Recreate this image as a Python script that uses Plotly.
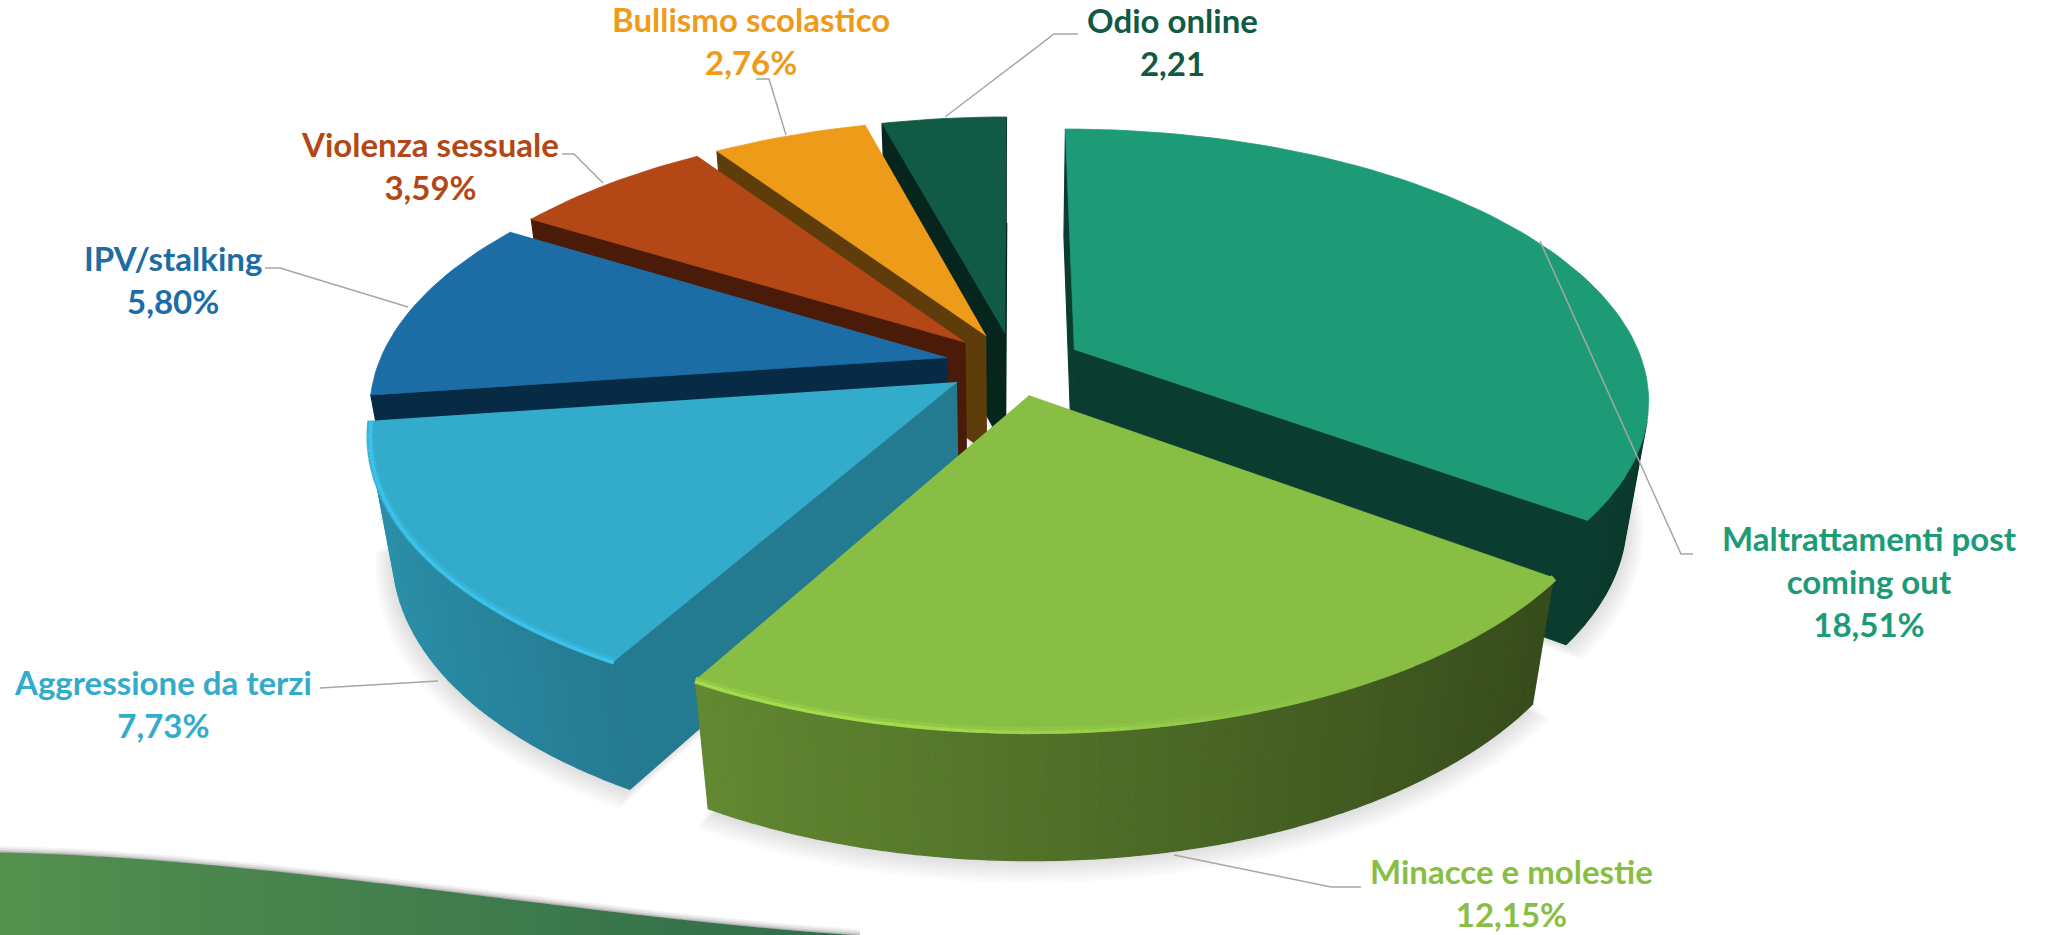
import numpy as np
import plotly.graph_objects as go

# values, clockwise from 12 o'clock
names = ["Maltrattamenti post<br>coming out", "Minacce e molestie", "Aggressione da terzi",
         "IPV/stalking", "Violenza sessuale", "Bullismo scolastico", "Odio online"]
values = [18.51, 12.15, 7.73, 5.80, 3.59, 2.76, 2.21]
value_labels = ["18,51%", "12,15%", "7,73%", "5,80%", "3,59%", "2,76%", "2,21"]

top_colors = ["#1D9A76", "#89BE45", "#33ABCA", "#1C6DA6", "#B34716", "#EE9B19", "#115A45"]
wall_colors = ["#0A3D30", "#3A4B18", "#237A91", "#072A45", "#4A1B09", "#5F3D0B", "#06261D"]
rim_colors = {1: "#A9E24F", 2: "#3EC8F2"}

label_xy = [(1869, 581), (1511, 892), (163, 703), (173, 279), (430, 165), (751, 40), (1172, 41)]
leaders = [
    [(1540, 241), (1681, 554), (1693, 554)],
    [(1174, 855), (1331, 887), (1361, 887)],
    [(438, 681), (340, 687), (320, 688)],
    [(408, 307), (280, 268), (265, 268)],
    [(603, 183), (574, 154), (562, 154)],
    [(786, 135), (769, 79), (756, 79)],
    [(945, 117), (1054, 34), (1078, 34)],
]

swoosh_x = [0, 255, 510, 842]
swoosh_y = [853, 870, 900, 935]

# camera of the tilted pie, in page pixels
CX, CY, A, B, C, K, M = 1014, 364, 569, 264, 122, 0.175, 0.035
EXPLODE = 0.12
draw_order = [6, 5, 4, 3, 0, 2, 1]


def project(u, v, w=0.0):
    d = 1 - K * v + M * w
    return CX + A * u / d, CY + (B * v + C * w) / d


def shade(hex_color, f):
    rgb = [int(hex_color[i:i + 2], 16) for i in (1, 3, 5)]
    return "rgb({},{},{})".format(*[int(min(255, c * f)) for c in rgb])


def blend(c1, c2, t):
    a = [int(c1[i:i + 2], 16) for i in (1, 3, 5)]
    b = [int(c2[i:i + 2], 16) for i in (1, 3, 5)]
    return "rgb({},{},{})".format(*[int(p + (q - p) * t) for p, q in zip(a, b)])


def poly(fig, xs, ys, color, width=1.2):
    fig.add_trace(go.Scatter(x=xs, y=ys, mode="lines", fill="toself", fillcolor=color,
                             line=dict(color=color, width=width),
                             hoverinfo="skip"))


fig = go.Figure()

# green swoosh in the lower left corner
coef = np.polyfit(swoosh_x, swoosh_y, 3)
for off, alpha in [(7, 0.05), (5, 0.07), (3, 0.1), (1.5, 0.14)]:
    sx = np.linspace(0, 860, 40)
    sy = np.polyval(coef, sx) - off
    poly(fig, list(sx) + [860, 0], list(sy) + [945, 945], "rgba(0,0,0,%s)" % alpha, width=0)
edges = np.linspace(0, 860, 44)
for x0, x1 in zip(edges[:-1], edges[1:]):
    t = x0 / 860
    poly(fig, [x0, x1, x1, x0], [np.polyval(coef, x0), np.polyval(coef, x1), 945, 945],
         blend("#54904E", "#2F6C4B", t))

shares = np.array(values) / sum(values) * 2 * np.pi
ends = np.cumsum(shares)
starts = ends - shares

# soft shadows first, so they stay under all the slices
for i in draw_order:
    mid = (starts[i] + ends[i]) / 2
    pu, pv = EXPLODE * np.sin(mid), -EXPLODE * np.cos(mid)
    th = np.linspace(starts[i], ends[i], 40)
    for grow in np.linspace(1.0, 1.03, 9):
        dy = (grow - 1) * 330
        pts = [project(pu + grow * np.sin(t), pv - grow * np.cos(t), 1) for t in th]
        apex = project(pu, pv, 1)
        poly(fig, [p[0] for p in pts] + [apex[0]], [p[1] + dy for p in pts] + [apex[1] + dy],
             "rgba(0,0,0,0.014)", width=0)

for i in draw_order:
    mid = (starts[i] + ends[i]) / 2
    pu, pv = EXPLODE * np.sin(mid), -EXPLODE * np.cos(mid)
    n = max(8, int(np.degrees(shares[i]) / 1.5))
    th = np.linspace(starts[i], ends[i], n + 1)
    ring = [(pu + np.sin(t), pv - np.cos(t)) for t in th]
    apex = (pu, pv)

    # walls: apex -> rim start, along the arc, rim end -> apex
    edge_list = [(apex, ring[0], wall_colors[i])]
    for p, q in zip(ring[:-1], ring[1:]):
        um = (p[0] + q[0]) / 2 - pu
        edge_list.append((p, q, shade(top_colors[i], 0.6 - 0.25 * um)))
    edge_list.append((ring[-1], apex, wall_colors[i]))
    for p, q, col in edge_list:
        quad = [project(*p, 0), project(*q, 0), project(*q, 1), project(*p, 1)]
        area = sum(quad[j][0] * quad[(j + 1) % 4][1] - quad[(j + 1) % 4][0] * quad[j][1] for j in range(4))
        if area < 0:
            poly(fig, [a[0] for a in quad], [a[1] for a in quad], col)

    # top face carries the hover text
    outline = [project(*apex, 0)] + [project(*p, 0) for p in ring]
    fig.add_trace(go.Scatter(x=[a[0] for a in outline], y=[a[1] for a in outline], mode="lines",
                             fill="toself", fillcolor=top_colors[i],
                             line=dict(color=top_colors[i], width=0.8),
                             hoverinfo="text", text=names[i].replace("<br>", " ") + " " + value_labels[i]))

    # bright bevel on the front rim of the two front slices
    if i in rim_colors:
        for width, w_off, strength in [(7, 0.0, 0.3), (3, 0.012, 0.85)]:
            for p, q in zip(ring[:-1], ring[1:]):
                um = (p[0] + q[0]) / 2 - pu
                vm = (p[1] + q[1]) / 2 - pv
                if vm < -0.15:
                    continue
                t = float(np.clip((0.45 - um) / 0.6, 0, 1)) * strength
                a, b = project(*p, w_off), project(*q, w_off)
                fig.add_trace(go.Scatter(x=[a[0], b[0]], y=[a[1], b[1]], mode="lines", hoverinfo="skip",
                                         line=dict(color=blend(top_colors[i], rim_colors[i], t), width=width)))

for pts in leaders:
    fig.add_trace(go.Scatter(x=[p[0] for p in pts], y=[p[1] for p in pts], mode="lines",
                             hoverinfo="skip", line=dict(color="#A6A6A6", width=1.5)))

for name, val, col, (x, y) in zip(names, value_labels, top_colors, label_xy):
    fig.add_annotation(x=x, y=y, xref="x", yref="y", text="<b>%s<br>%s</b>" % (name, val),
                       showarrow=False, align="center",
                       font=dict(family="Lato", size=33, color=col))

fig.update_layout(width=2046, height=935, margin=dict(l=0, r=0, t=0, b=0),
                  paper_bgcolor="white", plot_bgcolor="white", showlegend=False,
                  xaxis=dict(range=[0, 2046], visible=False, fixedrange=True),
                  yaxis=dict(range=[935, 0], visible=False, fixedrange=True))

fig.write_html("out.html", config={"displayModeBar": False},
               post_script="document.body.style.margin='0';")
